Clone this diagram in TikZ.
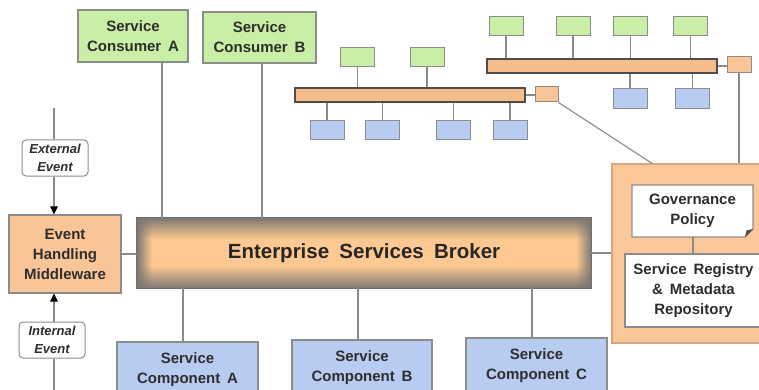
\documentclass[tikz,border=0pt]{standalone}
\usepackage{fontspec}
\setmainfont{Liberation Sans}
\usetikzlibrary{arrows.meta,fadings,calc}

\definecolor{cgreen}{HTML}{C9EFA6}
\definecolor{cblue}{HTML}{B8CBF0}
\definecolor{corange}{HTML}{FAC596}
\definecolor{cpanel}{HTML}{FAC898}
\definecolor{cline}{HTML}{8A8A8A}
\definecolor{cframe}{HTML}{8C8C8C}
\definecolor{ctext}{HTML}{2E2E2E}
\definecolor{brkdark}{HTML}{7E7873}
\definecolor{brklight}{HTML}{FDC891}
\definecolor{brkborder}{HTML}{6E6E6E}
\definecolor{busedge}{HTML}{4D4D4D}
\definecolor{busA}{HTML}{F5BD8C}
\definecolor{busB}{HTML}{FEE2C4}

% broker body: grey rims, peach band in the middle
\pgfdeclareverticalshading{brokershade}{100bp}{color(0bp)=(brkdark); color(25bp)=(brkdark); color(41bp)=(brklight); color(60bp)=(brklight); color(75bp)=(brkdark); color(100bp)=(brkdark)}

\tikzfading[name=fadeout right, left color=transparent!0, right color=transparent!100]
\tikzfading[name=fadeout left, left color=transparent!100, right color=transparent!0]

\newcommand\boxfont{\fontsize{15}{20}\selectfont\bfseries\spaceskip=0.45em\relax}
\newcommand\evfont{\fontsize{13}{17.5}\selectfont\bfseries\itshape}
\newcommand\brokerfont{\fontsize{20.5}{24}\selectfont\bfseries\spaceskip=0.5em\relax}

\tikzset{
  lbl/.style={font=\boxfont, text=ctext, align=center, inner sep=0pt},
  greenbox/.style={lbl, draw=cframe, fill=cgreen, line width=1.2pt},
  bluebox/.style={lbl, draw=cframe, fill=cblue, line width=1.2pt},
  orangebox/.style={lbl, draw=cframe, fill=corange, line width=1.2pt},
  whitebox/.style={lbl, draw=cframe, fill=white, line width=1.2pt},
  docnode/.style={lbl},
  docframe/.style={draw=cframe, fill=white, line width=1.2pt},
  panelbox/.style={draw=corange!85!black, fill=cpanel, line width=1.2pt, inner sep=0pt},
  evbox/.style={font=\evfont, text=ctext, align=center, inner sep=0pt, draw=cframe,
    fill=white, line width=1pt, rounded corners=4pt, minimum width=66, minimum height=36},
  brokerbox/.style={font=\brokerfont, text=black!85, inner sep=0pt, shading=brokershade,
    minimum width=454, minimum height=70},
  bus/.style={draw=busedge, line width=1.4pt, top color=busA, middle color=busB,
    bottom color=busA, inner sep=0pt, minimum width=230, minimum height=14},
  minig/.style={draw=cframe, fill=cgreen, line width=1pt, inner sep=0pt,
    minimum width=34, minimum height=19},
  minib/.style={draw=cframe, fill=cblue, line width=1pt, inner sep=0pt,
    minimum width=34, minimum height=19},
  minio/.style={draw=cframe, fill=corange, line width=1pt, inner sep=0pt},
  conn/.style={draw=cline, line width=1.3pt},
  evarrow/.style={conn, -{Triangle[length=8pt,width=7.5pt,color=black,fill=black]}},
}

\begin{document}
\begin{tikzpicture}[x=1pt,y=-1pt]
\useasboundingbox (0,0) rectangle (759,390);
\clip (0,0) rectangle (759,390);
\fill[white] (0,0) rectangle (759,390);

% ---------- columns used by the vertical connectors ----------
\coordinate (xcA) at (162,0);
\coordinate (xcB) at (262,0);
\coordinate (xsA) at (183,0);
\coordinate (xsB) at (358,0);
\coordinate (xsC) at (532,0);
\coordinate (xev) at (54,0);
\coordinate (xdiag) at (652,0);
\coordinate (xreg) at (693,0);
\coordinate (evtop) at (54,108);
\coordinate (evbot) at (54,392);

% ---------- consumers ----------
\node[greenbox, minimum width=110, minimum height=52] (cA) at (133,36) {Service\\Consumer A};
\node[greenbox, minimum width=113, minimum height=51] (cB) at (259.5,37.5) {Service\\Consumer B};

% ---------- broker ----------
\node[brokerbox] (broker) at (364,253) {Enterprise Services Broker};
\fill[brkdark, path fading=fadeout right] (broker.north west) rectangle ([xshift=15pt]broker.south west);
\fill[brkdark, path fading=fadeout left] ([xshift=-15pt]broker.north east) rectangle (broker.south east);
\draw[brkborder, line width=1pt] (broker.north west) rectangle (broker.south east);

% ---------- event handling ----------
\node[orangebox, minimum width=112, minimum height=78] (ehm) at (65,254) {Event\\Handling\\Middleware};
\node[evbox] (ext) at (55,158) {External\\Event};
\node[evbox] (intl) at (52,340) {Internal\\Event};

% ---------- service components ----------
\node[bluebox, minimum width=141, minimum height=56] (sA) at (187.5,370) {Service\\Component A};
\node[bluebox, minimum width=140, minimum height=56] (sB) at (362,368) {Service\\Component B};
\node[bluebox, minimum width=141, minimum height=56] (sC) at (536.5,366) {Service\\Component C};

% ---------- governance panel ----------
\node[panelbox, minimum width=153, minimum height=179] (panel) at (688.5,253.5) {};
\draw[docframe] (632,185) -- (753,185) -- (753,229) -- (745,237) -- (632,237) -- cycle;
\node[docnode, minimum width=121, minimum height=52] (gov) at (692.5,211) {Governance\\Policy};
\fill[black!70] (753,229) -- (745,237) -- (746.5,230.5) -- cycle;
\node[whitebox, minimum width=137, minimum height=73] (reg) at (693.5,290.5) {Service Registry\\\& Metadata\\Repository};

% ---------- buses ----------
\node[bus] (bus1) at (410,95) {};
\node[bus] (bus2) at (602,66) {};
\node[minio, minimum width=23, minimum height=15] (sb1) at (546.5,94.5) {};
\node[minio, minimum width=24, minimum height=16] (sb2) at (739,65) {};
\draw[conn, line width=1.1pt] (bus1.east) -- (bus1.east -| sb1.west);
\draw[conn, line width=1.1pt] (bus2.east) -- (bus2.east -| sb2.west);

\foreach \x/\n in {357.5/ga1, 427/ga2} {
  \node[minig] (\n) at (\x,57.5) {};
  \draw[conn, line width=1.1pt] (\n.south) -- (\n.south |- bus1.north);
}
\foreach \x/\n in {327/ba1, 382.5/ba2, 453.5/ba3, 510/ba4} {
  \node[minib] (\n) at (\x,130.5) {};
  \draw[conn, line width=1.1pt] (\n.north) -- (\n.north |- bus1.south);
}
\foreach \x/\n in {506/gb1, 573/gb2, 630.5/gb3, 690.5/gb4} {
  \node[minig] (\n) at (\x,26.5) {};
  \draw[conn, line width=1.1pt] (\n.south) -- (\n.south |- bus2.north);
}
\foreach \x/\n in {630/bb1, 692.5/bb2} {
  \node[minib, minimum height=20] (\n) at (\x,99) {};
  \draw[conn, line width=1.1pt] (\n.north) -- (\n.north |- bus2.south);
}

% ---------- connectors ----------
\draw[conn] (cA.south -| xcA) -- (broker.north -| xcA);
\draw[conn] (cB.south -| xcB) -- (broker.north -| xcB);
\draw[conn] (broker.south -| xsA) -- (sA.north -| xsA);
\draw[conn] (broker.south -| xsB) -- (sB.north -| xsB);
\draw[conn] (broker.south -| xsC) -- (sC.north -| xsC);
\draw[conn] (ehm.east) -- (ehm.east -| broker.west);
\draw[conn] (broker.east) -- (broker.east -| panel.west);
\draw[conn] (gov.south -| xreg) -- (reg.north -| xreg);
\draw[conn, line width=1.1pt] (sb1.south east) -- (panel.north -| xdiag);
\draw[conn, line width=1.1pt] (sb2.south) -- (sb2.south |- panel.north);

\draw[conn] (evtop) -- (ext.north -| evtop);
\draw[evarrow] (ext.south -| xev) -- (ehm.north -| xev);
\draw[evarrow] (intl.north -| xev) -- (ehm.south -| xev);
\draw[conn] (intl.south -| xev) -- (evbot);
\end{tikzpicture}
\end{document}
